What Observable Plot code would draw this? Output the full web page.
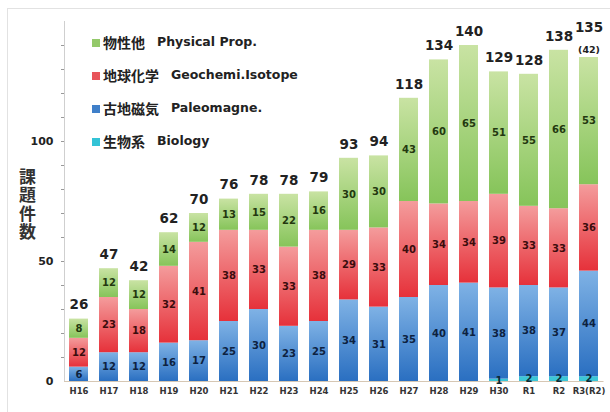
<!DOCTYPE html>
<html>
<head>
<meta charset="utf-8">
<script src="https://cdn.jsdelivr.net/npm/d3@7"></script>
<script src="https://cdn.jsdelivr.net/npm/@observablehq/plot@0.6"></script>
<style>
  html, body { margin: 0; padding: 0; background: #fff; }
  #wrap { position: relative; width: 610px; height: 412px; overflow: hidden; font-family: "DejaVu Sans", "Noto Sans CJK JP", sans-serif; }
  #frame { position: absolute; left: 7px; top: 8px; width: 640px; height: 440px; border-left: 1px solid #e2e2e2; border-top: 1px solid #e2e2e2; }
  #chart { position: absolute; left: 0; top: 0; }
  #ylab { position: absolute; left: 18px; top: 168px; writing-mode: vertical-rl; text-orientation: upright; font-family: "Noto Sans CJK JP", sans-serif; font-weight: bold; font-size: 17px; letter-spacing: 1.5px; line-height: 18px; color: #333; }
  #legend { position: absolute; left: 92px; top: 25px; }
  .row { height: 33px; display: flex; align-items: center; white-space: nowrap; font-weight: bold; color: #222; }
  .sw { width: 8px; height: 8px; margin-right: 3px; margin-top: 3px; }
  .jp { font-family: "Noto Sans CJK JP", sans-serif; font-size: 14px; }
  .en { font-family: "DejaVu Sans", sans-serif; font-size: 12.5px; margin-left: 12px; }
</style>
</head>
<body>
<div id="wrap">
  <div id="frame"></div>
  <div id="chart"></div>
  <div id="ylab"></div>
  <div id="legend"></div>
</div>
<script>
const categories = ["H16","H17","H18","H19","H20","H21","H22","H23","H24","H25","H26","H27","H28","H29","H30","R1","R2","R3(R2)"];
const biology    = [0,0,0,0,0,0,0,0,0,0,0,0,0,0,1,2,2,2];
const paleomagne = [6,12,12,16,17,25,30,23,25,34,31,35,40,41,38,38,37,44];
const geochem    = [12,23,18,32,41,38,33,33,38,29,33,40,34,34,39,33,33,36];
const physical   = [8,12,12,14,12,13,15,22,16,30,30,43,60,65,51,55,66,53];
const totals     = [26,47,42,62,70,76,78,78,79,93,94,118,134,140,129,128,138,135];
const notes      = ["","","","","","","","","","","","","","","","","","(42)"];
const yMajorTicks = [0, 50, 100];
const yMinorTicks = [10,20,30,40,50,60,70,80,90,100,110,120,130,140];
const yTitle = "課題件数";

const seriesInfo = [
  {key: "bio", jp: "生物系", en: "Biology", values: biology, fill: "#3cc6d6", text: "#0d2a33", swatch: "#33c3d6"},
  {key: "pal", jp: "古地磁気", en: "Paleomagne.", values: paleomagne, fill: "url(#g-pal)", text: "#0d2240", swatch: "#3f7fc9"},
  {key: "geo", jp: "地球化学", en: "Geochemi.Isotope", values: geochem, fill: "url(#g-geo)", text: "#3b0d0d", swatch: "#e8545a"},
  {key: "phy", jp: "物性他", en: "Physical Prop.", values: physical, fill: "url(#g-phy)", text: "#23380f", swatch: "#94c96a"}
];

const data = [];
for (const s of seriesInfo) {
  categories.forEach((c, i) => data.push({cat: c, series: s.key, value: s.values[i], fill: s.fill, text: s.text}));
}
const totalData = categories.map((c, i) => ({cat: c, total: totals[i], note: notes[i]}));

const plot = Plot.plot({
  width: 610,
  height: 412,
  marginLeft: 64,
  marginRight: 6.5,
  marginTop: 21,
  marginBottom: 31,
  style: {fontFamily: "DejaVu Sans, sans-serif", background: "transparent"},
  x: {domain: categories, paddingInner: 0.38, paddingOuter: 0.15, label: null},
  y: {domain: [0, 150], label: null},
  color: {type: "identity"},
  marks: [
    Plot.frame({anchor: "left", stroke: "#cfcfcf"}),
    Plot.barY(data, Plot.stackY({x: "cat", y: "value", z: "series", fill: "fill"})),
    Plot.ruleY([0], {stroke: "#d6c7b4", strokeWidth: 1.2}),
    Plot.axisY({ticks: yMinorTicks, tickSize: 3, tickFormat: () => "", stroke: "#999", label: null}),
    Plot.axisY({ticks: yMajorTicks, tickSize: 0, tickPadding: 11, fontSize: 11, fontWeight: "bold", color: "#222", label: null}),
    Plot.axisX({tickSize: 0, tickPadding: 6, fontSize: 8.5, fontWeight: "bold", color: "#333", label: null}),
    Plot.text(data, Plot.stackY({filter: d => d.value > 0, x: "cat", y: "value", z: "series", text: d => String(d.value), fill: "text", fontSize: 10, fontWeight: "bold"})),
    Plot.text(totalData, {filter: d => !d.note, x: "cat", y: "total", text: d => String(d.total), dy: -14, fontSize: 13.5, fontWeight: "bold", fill: "#222"}),
    Plot.text(totalData, {filter: d => d.note, x: "cat", y: "total", text: d => String(d.total), dy: -30, fontSize: 13.5, fontWeight: "bold", fill: "#222"}),
    Plot.text(totalData, {filter: d => d.note, x: "cat", y: "total", text: "note", dy: -8, fontSize: 9.5, fontWeight: "bold", fill: "#222"})
  ]
});

// vertical gradients for the bar segments
const ns = "http://www.w3.org/2000/svg";
const defs = document.createElementNS(ns, "defs");
const grads = {
  "g-phy": ["#c9e3a3", "#86c45a"],
  "g-geo": ["#f49c9c", "#e6313a"],
  "g-pal": ["#7fb2e5", "#2a6fc1"]
};
for (const [id, [c1, c2]] of Object.entries(grads)) {
  const g = document.createElementNS(ns, "linearGradient");
  g.setAttribute("id", id);
  g.setAttribute("x1", "0"); g.setAttribute("y1", "0");
  g.setAttribute("x2", "0"); g.setAttribute("y2", "1");
  const s1 = document.createElementNS(ns, "stop");
  s1.setAttribute("offset", "0"); s1.setAttribute("stop-color", c1);
  const s2 = document.createElementNS(ns, "stop");
  s2.setAttribute("offset", "1"); s2.setAttribute("stop-color", c2);
  g.appendChild(s1); g.appendChild(s2);
  defs.appendChild(g);
}
plot.insertBefore(defs, plot.firstChild);
document.getElementById("chart").appendChild(plot);

// y title, written vertically
document.getElementById("ylab").textContent = yTitle;

// legend (top to bottom: physical, geochem, paleomagne, biology)
const lg = document.getElementById("legend");
for (const s of seriesInfo.slice().reverse()) {
  const row = document.createElement("div");
  row.className = "row";
  row.innerHTML = `<span class="sw" style="background:${s.swatch}"></span><span class="jp">${s.jp}</span><span class="en">${s.en}</span>`;
  lg.appendChild(row);
}
</script>
</body>
</html>
